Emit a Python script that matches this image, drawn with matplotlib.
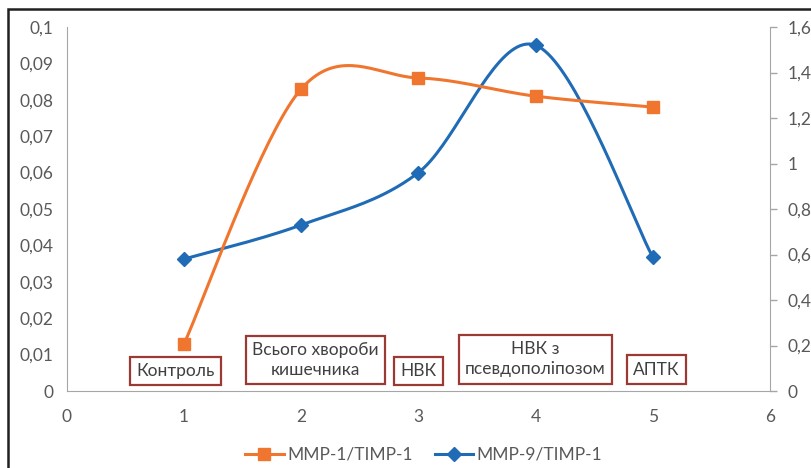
import numpy as np
import matplotlib
matplotlib.use("Agg")
import matplotlib.pyplot as plt
from matplotlib.patches import Rectangle
from matplotlib.lines import Line2D

# Data
x_groups = [1, 2, 3, 4, 5]
mmp1_timp1 = [0.013, 0.083, 0.086, 0.081, 0.078]
mmp9_timp1 = [0.58, 0.73, 0.96, 1.52, 0.59]
group_labels = ["Контроль", "Всього хвороби\nкишечника", "НВК",
                "НВК з\nпсевдополіпозом", "АПТК"]
series_names = ["MMP-1/TIMP-1", "MMP-9/TIMP-1"]
left_ticks = [0, 0.01, 0.02, 0.03, 0.04, 0.05, 0.06, 0.07, 0.08, 0.09, 0.1]
right_ticks = [0, 0.2, 0.4, 0.6, 0.8, 1.0, 1.2, 1.4, 1.6]
x_ticks = [0, 1, 2, 3, 4, 5, 6]

ORANGE = "#F0762F"
BLUE = "#1F6BB5"
GREY_TXT = "#595959"
AXIS_GREY = "#A6A6A6"
BOX_EDGE = "#9B3A33"
FS = 12.5

plt.rcParams["font.family"] = ["Lato", "DejaVu Sans"]

fig = plt.figure(figsize=(8.12, 4.68), dpi=100)
ax = fig.add_axes([0.0825, 0.1645, 0.8655, 0.7778])
ax2 = ax.twinx()

ax.set_xlim(0, 6)
ax.set_ylim(0, 0.1)
ax2.set_ylim(0, 1.6)


def fmt(v):
    return ("%g" % v).replace(".", ",")


def smooth_curve(axis, xs, ys, n=40):
    """Excel-style smoothed line: cubic Bezier segments built in pixel space."""
    tr = axis.transData
    pts = tr.transform(np.column_stack([xs, ys]))
    out = [pts[0]]
    m = len(pts)
    for i in range(m - 1):
        p0 = pts[i - 1] if i > 0 else pts[i]
        p1 = pts[i]
        p2 = pts[i + 1]
        p3 = pts[i + 2] if i + 2 < m else pts[i + 1]
        c1 = p1 + (p2 - p0) / 6.0
        c2 = p2 - (p3 - p1) / 6.0
        t = np.linspace(0, 1, n)[1:, None]
        seg = ((1 - t) ** 3) * p1 + 3 * ((1 - t) ** 2) * t * c1 \
            + 3 * (1 - t) * t ** 2 * c2 + t ** 3 * p2
        out.extend(seg)
    out = np.array(out)
    return tr.inverted().transform(out)


c1 = smooth_curve(ax, x_groups, mmp1_timp1)
ax.plot(c1[:, 0], c1[:, 1], color=ORANGE, lw=2.2, zorder=3, solid_capstyle="round")
ax.plot(x_groups, mmp1_timp1, ls="none", marker="s", ms=9, color=ORANGE, zorder=4)

c2 = smooth_curve(ax2, x_groups, mmp9_timp1)
ax2.plot(c2[:, 0], c2[:, 1], color=BLUE, lw=2.2, zorder=3, solid_capstyle="round")
ax2.plot(x_groups, mmp9_timp1, ls="none", marker="D", ms=7, color=BLUE, zorder=4)

# Axes styling
for a in (ax, ax2):
    a.spines["top"].set_visible(False)
    a.spines["bottom"].set_color(AXIS_GREY)
    a.spines["left"].set_color(AXIS_GREY)
    a.spines["right"].set_color(AXIS_GREY)
ax.spines["right"].set_visible(False)
ax2.spines["left"].set_visible(False)
ax2.spines["bottom"].set_visible(False)

ax.set_xticks(x_ticks)
ax.set_xticklabels([str(v) for v in x_ticks])
ax.set_yticks(left_ticks)
ax.set_yticklabels([fmt(v) for v in left_ticks])
ax2.set_yticks(right_ticks)
ax2.set_yticklabels([fmt(v) for v in right_ticks])

ax.tick_params(axis="x", length=0, pad=13, labelsize=FS, labelcolor=GREY_TXT)
ax.tick_params(axis="y", length=0, pad=10, labelsize=FS, labelcolor=GREY_TXT)
ax2.tick_params(axis="y", length=5, width=1, color=AXIS_GREY, pad=8,
                labelsize=FS, labelcolor=GREY_TXT)

ax.set_zorder(ax2.get_zorder() + 1)
ax.patch.set_visible(False)

# Group labels in framed boxes along the bottom of the plot
label_pos = [(0.93, 0.0055), (2.12, 0.0086), (3.0, 0.0055),
             (4.0, 0.0087), (5.03, 0.0059)]
for (lx, ly), txt in zip(label_pos, group_labels):
    ax.text(lx, ly, txt, ha="center", va="center", fontsize=FS,
            color="#404040", linespacing=1.3, zorder=6,
            bbox=dict(boxstyle="square,pad=0.36", fc="white",
                      ec=BOX_EDGE, lw=1.6))

# Legend
handles = [
    Line2D([], [], color=ORANGE, lw=2.2, marker="s", ms=9),
    Line2D([], [], color=BLUE, lw=2.2, marker="D", ms=7),
]
fig.legend(handles, series_names, loc="center", bbox_to_anchor=(0.522, 0.028),
           ncol=2, frameon=False, fontsize=FS, handlelength=2.2,
           columnspacing=1.3, handletextpad=0.2, labelcolor=GREY_TXT)

# Outer frame of the chart area
fig.patches.append(Rectangle((7.5 / 812, -0.1), 1.2, 1 - 8.5 / 468 + 0.1,
                             transform=fig.transFigure, fill=False,
                             ec="#202020", lw=1.8))

fig.savefig("out.png", dpi=100)
